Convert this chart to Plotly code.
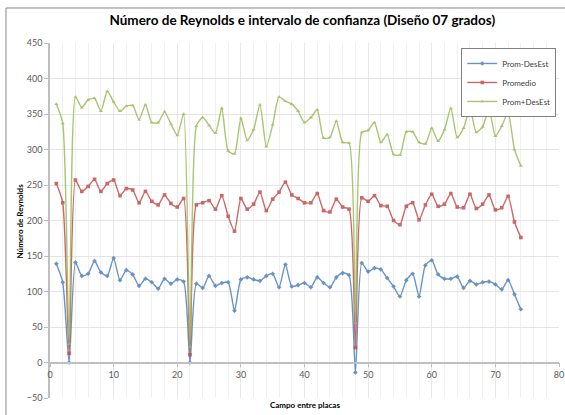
import plotly.graph_objects as go

# Field index between plates
campo = list(range(1, 75))

# Mean minus one standard deviation
prom_menos = [139, 113, 0, 141, 122, 125, 143, 127, 122, 147,
              116, 130, 124, 108, 118, 113, 104, 118, 111, 117,
              114, 0, 111, 105, 122, 108, 112, 113, 73, 117,
              120, 117, 115, 122, 125, 106, 138, 107, 109, 112,
              106, 120, 112, 106, 120, 126, 123, -14, 140, 128,
              133, 131, 119, 107, 93, 116, 125, 93, 137, 144,
              124, 118, 118, 121, 105, 115, 110, 113, 114, 110,
              103, 116, 96, 75]

# Mean Reynolds number
promedio = [252, 225, 13, 257, 241, 248, 258, 241, 252, 257,
            235, 245, 243, 225, 241, 227, 222, 236, 224, 219,
            231, 11, 222, 225, 228, 216, 235, 206, 185, 231,
            216, 223, 240, 214, 230, 240, 254, 236, 231, 225,
            225, 238, 214, 212, 230, 219, 216, 21, 232, 227,
            235, 221, 220, 200, 194, 220, 225, 201, 222, 237,
            220, 223, 238, 219, 218, 237, 217, 223, 236, 215,
            218, 234, 198, 176]

# Mean plus one standard deviation
prom_mas = [364, 337, 26, 374, 359, 370, 372, 354, 382, 367,
            354, 361, 362, 342, 363, 338, 338, 353, 336, 320,
            350, 22, 333, 345, 334, 323, 358, 298, 294, 344,
            313, 328, 363, 304, 335, 374, 368, 364, 354, 338,
            345, 356, 316, 317, 340, 310, 309, 56, 324, 327,
            338, 310, 321, 293, 292, 325, 325, 310, 308, 330,
            312, 328, 358, 317, 330, 358, 324, 332, 357, 319,
            333, 352, 300, 277]

series = [
    ("Prom-DesEst", prom_menos, "#4F81BD", "diamond"),
    ("Promedio", promedio, "#C0504D", "square"),
    ("Prom+DesEst", prom_mas, "#9BBB59", "triangle-up"),
]

fig = go.Figure()
for name, vals, color, symbol in series:
    fig.add_trace(go.Scatter(
        x=campo, y=vals, name=name, mode="lines+markers",
        line=dict(color=color, width=1.4, shape="spline", smoothing=0.6),
        marker=dict(symbol=symbol, size=3.6, color=color),
        opacity=0.85,
    ))

font_main = "Lato, 'Liberation Sans', sans-serif"
tick_font = dict(family=font_main, size=9, color="#595959")

fig.update_layout(
    width=565, height=415,
    margin=dict(l=50, r=6, t=43, b=17),
    paper_bgcolor="white", plot_bgcolor="white",
    title=dict(
        text="<b>Número de Reynolds e intervalo de confianza (Diseño 07 grados)</b>",
        font=dict(family=font_main, size=13.5, color="#000000"),
        x=0.535, xanchor="center", y=0.952, yanchor="middle",
        automargin=False,
    ),
    showlegend=True,
    legend=dict(
        x=0.808, xanchor="left", y=0.986, yanchor="top",
        bgcolor="white", bordercolor="#7F7F7F", borderwidth=1,
        font=dict(family=font_main, size=8, color="#404040"),
        itemwidth=30, tracegroupgap=0,
    ),
    xaxis=dict(
        range=[0, 80], dtick=10, tick0=0,
        anchor="free", position=0.1, automargin=False,
        showgrid=True, gridcolor="#E8E8E8", gridwidth=1,
        minor=dict(dtick=2, showgrid=True, gridcolor="#F0F0F0"),
        showline=True, linecolor="#BFBFBF", linewidth=1.5,
        ticks="outside", ticklen=4, tickcolor="#BFBFBF",
        tickfont=tick_font, zeroline=False,
    ),
    yaxis=dict(
        range=[-50, 450], dtick=50, tick0=0, automargin=False,
        showgrid=True, gridcolor="#E4E4E4", gridwidth=1,
        showline=True, linecolor="#BFBFBF", linewidth=1.5,
        ticks="outside", ticklen=4, tickcolor="#BFBFBF",
        tickfont=tick_font, zeroline=False,
    ),
    annotations=[
        dict(text="<b>Campo entre placas</b>", xref="paper", yref="paper",
             x=0.5, y=-0.02, xanchor="center", yanchor="middle",
             showarrow=False, font=dict(family=font_main, size=8, color="#000000")),
        dict(text="<b>Número de Reynolds</b>", xref="paper", yref="paper",
             x=-0.059, y=0.5, xanchor="center", yanchor="middle", textangle=-90,
             showarrow=False, font=dict(family=font_main, size=8, color="#000000")),
    ],
    shapes=[
        # outer chart frame (left and top edges)
        dict(type="line", xref="paper", yref="paper",
             x0=-0.0865, x1=-0.0865, y0=-0.2, y1=1.0986,
             line=dict(color="#868686", width=1)),
        dict(type="line", xref="paper", yref="paper",
             x0=-0.0865, x1=1.2, y0=1.0986, y1=1.0986,
             line=dict(color="#868686", width=1)),
    ],
)

fig.write_html("out.html")
